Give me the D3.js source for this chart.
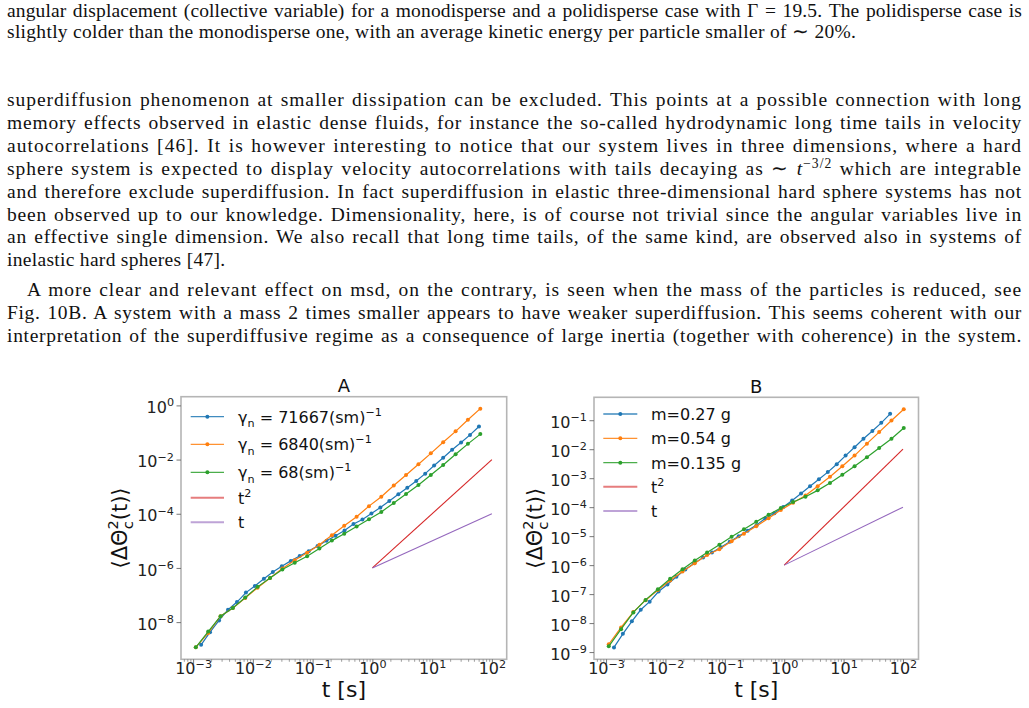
<!DOCTYPE html>
<html>
<head>
<meta charset="utf-8">
<script src="https://cdn.jsdelivr.net/npm/d3@7"></script>
<style>
  body { margin: 0; background: #fff; width: 1029px; height: 708px; overflow: hidden; position: relative; }
  .ln { position: absolute; left: 7px; width: 1015px; font-family: "Liberation Serif", serif; font-size: 19.5px;
        letter-spacing: 0px; line-height: 19.5px; white-space: nowrap; color: #111; }
  .ln sup { font-size: 70%; line-height: 0; }
  svg { position: absolute; left: 0; top: 0; }
</style>
</head>
<body>
<div id="text"></div>
<svg id="chart" width="1029" height="708"></svg>
<script>
// temps (s) : grille fine (série bleue) et grille grossière (orange / verte)
const tFine = [1.36e-3, 1.92e-3, 2.72e-3, 3.84e-3, 5.42e-3, 7.66e-3, 1.08e-2, 1.53e-2, 2.16e-2, 3.05e-2,
  4.31e-2, 6.08e-2, 8.59e-2, 0.121, 0.171, 0.242, 0.342, 0.483, 0.682, 0.964,
  1.36, 1.92, 2.72, 3.84, 5.42, 7.66, 10.8, 15.3, 21.6, 30.5, 43.1, 60.8];
const tCoarse = [1.11e-3, 1.79e-3, 2.88e-3, 4.63e-3, 7.46e-3, 1.20e-2, 1.94e-2, 3.12e-2, 5.02e-2, 8.09e-2,
  0.130, 0.210, 0.338, 0.545, 0.877, 1.41, 2.28, 3.66, 5.90, 9.51, 15.3, 24.7, 39.7, 64.0, 103];

// msd : gamma_n = 71667 (sm)^-1, m = 0.27 g (même série en A et B)
const msdBlue = [1.45e-9, 4.27e-9, 1.15e-8, 2.88e-8, 5.50e-8, 1.23e-7, 2.14e-7, 3.98e-7, 7.08e-7, 1.15e-6,
  1.82e-6, 2.75e-6, 4.17e-6, 6.46e-6, 1.00e-5, 1.55e-5, 2.40e-5, 4.17e-5, 6.17e-5, 1.02e-4,
  1.70e-4, 2.95e-4, 5.25e-4, 9.12e-4, 1.62e-3, 3.02e-3, 6.03e-3, 1.17e-2, 2.29e-2, 4.27e-2, 8.13e-2, 0.166];
// A : gamma_n = 6840 et 68 (sm)^-1
const msdOrangeA = [1.17e-9, 3.98e-9, 1.66e-8, 3.31e-8, 7.76e-8, 1.86e-7, 4.27e-7, 9.55e-7, 1.91e-6, 3.63e-6,
  7.24e-6, 1.62e-5, 3.63e-5, 7.76e-5, 1.91e-4, 4.27e-4, 1.10e-3, 2.69e-3, 6.76e-3, 1.70e-2, 4.37e-2, 0.110, 0.295, 0.759];
const msdGreenA = [1.17e-9, 4.47e-9, 1.66e-8, 3.31e-8, 8.13e-8, 2.00e-7, 4.27e-7, 8.71e-7, 1.55e-6, 2.69e-6,
  5.25e-6, 1.02e-5, 1.82e-5, 3.39e-5, 6.31e-5, 1.17e-4, 2.51e-4, 5.37e-4, 1.15e-3, 2.69e-3, 6.31e-3, 1.58e-2, 3.80e-2, 8.71e-2];
// B : m = 0.54 g et m = 0.135 g
const msdOrangeB = [1.86e-9, 7.08e-9, 2.40e-8, 6.17e-8, 1.38e-7, 2.95e-7, 6.03e-7, 1.17e-6, 2.24e-6, 3.55e-6,
  6.61e-6, 1.20e-5, 2.19e-5, 4.17e-5, 7.94e-5, 1.41e-4, 2.51e-4, 5.25e-4, 1.12e-3, 2.57e-3, 6.03e-3, 1.55e-2, 3.89e-2, 9.77e-2, 0.240];
const msdGreenB = [1.58e-9, 6.17e-9, 2.34e-8, 6.31e-8, 1.48e-7, 3.39e-7, 7.24e-7, 1.45e-6, 2.75e-6, 5.01e-6,
  9.55e-6, 1.74e-5, 3.16e-5, 5.50e-5, 9.33e-5, 1.51e-4, 2.29e-4, 3.80e-4, 6.76e-4, 1.32e-3, 2.57e-3, 5.25e-3, 1.10e-2, 2.29e-2, 5.37e-2];

// droites de référence
const refT = [1, 100];
const refT2 = [1e-6, 1e-2];
const refT1 = [1e-6, 1e-4];

// ticks (exposants)
const xTickExp = [-3, -2, -1, 0, 1, 2];
const yTickExpA = [0, -2, -4, -6, -8];
const yTickExpB = [-1, -2, -3, -4, -5, -6, -7, -8, -9];

// légendes
const legendA = [
  [["γ"], ["n", "sub"], [" = 71667(sm)"], ["−1", "sup"]],
  [["γ"], ["n", "sub"], [" = 6840(sm)"], ["−1", "sup"]],
  [["γ"], ["n", "sub"], [" = 68(sm)"], ["−1", "sup"]],
  [["t"], ["2", "sup"]],
  [["t"]]
];
const legendB = [[["m=0.27 g"]], [["m=0.54 g"]], [["m=0.135 g"]], [["t"], ["2", "sup"]], [["t"]]];
const yLabel = [["⟨ΔΘ"], ["2", "sup"], ["c", "sub", -9.3], ["(t)⟩", null, 1]];

const colors = { blue: "#1f77b4", orange: "#ff7f0e", green: "#2ca02c", red: "#d62728", purple: "#9467bd" };

// texte de la page
const textLines = [
  { b: 17, h: "angular displacement (collective variable) for a monodisperse and a polidisperse case with Γ = 19.5. The polidisperse case is" },
  { b: 38.5, h: "slightly colder than the monodisperse one, with an average kinetic energy per particle smaller of ∼ 20%.", last: true },
  { b: 106.5, h: "superdiffusion phenomenon at smaller dissipation can be excluded. This points at a possible connection with long" },
  { b: 129.5, h: "memory effects observed in elastic dense fluids, for instance the so-called hydrodynamic long time tails in velocity" },
  { b: 152.5, h: "autocorrelations [46]. It is however interesting to notice that our system lives in three dimensions, where a hard" },
  { b: 175.5, h: "sphere system is expected to display velocity autocorrelations with tails decaying as ∼ <i>t</i><sup>−3/2</sup> which are integrable" },
  { b: 198, h: "and therefore exclude superdiffusion. In fact superdiffusion in elastic three-dimensional hard sphere systems has not" },
  { b: 221, h: "been observed up to our knowledge. Dimensionality, here, is of course not trivial since the angular variables live in" },
  { b: 243.5, h: "an effective single dimension. We also recall that long time tails, of the same kind, are observed also in systems of" },
  { b: 266.5, h: "inelastic hard spheres [47].", last: true },
  { b: 296, h: "A more clear and relevant effect on msd, on the contrary, is seen when the mass of the particles is reduced, see", indent: 20 },
  { b: 319, h: "Fig. 10B. A system with a mass 2 times smaller appears to have weaker superdiffusion. This seems coherent with our" },
  { b: 342, h: "interpretation of the superdiffusive regime as a consequence of large inertia (together with coherence) in the system." }
];

// justification ligne par ligne : un peu d'approche, le reste en espaces
d3.select("#text").selectAll("div").data(textLines).join("div")
  .attr("class", "ln")
  .style("top", d => (d.b - 16.3) + "px")
  .style("left", d => (7 + (d.indent || 0)) + "px")
  .html(d => `<span>${d.h}</span>`)
  .each(function (d) {
    const plain = d.h.replace(/<[^>]+>/g, "");
    const n = (plain.match(/ /g) || []).length;
    const target = 1015 - (d.indent || 0);
    let w = this.firstChild.getBoundingClientRect().width;
    const extra = target - w;
    const ws = Math.min(extra / n, 1.5);
    const ls = d.last ? 0.3 : Math.max(0, (extra - ws * n) / plain.length);
    this.style.letterSpacing = ls + "px";
    if (d.last) return;
    w = this.firstChild.getBoundingClientRect().width;
    this.style.wordSpacing = ((target - w) / n) + "px";
  });

const svg = d3.select("#chart");
const FONT = "DejaVu Sans, sans-serif";

function logPad(ext) {
  const a = Math.log10(ext[0]), b = Math.log10(ext[1]), m = (b - a) * 0.05;
  return [10 ** (a - m), 10 ** (b + m)];
}

function richText(sel, parts, size) {
  let off = 0;
  parts.forEach(([txt, kind, dx]) => {
    const target = kind === "sup" ? -0.42 * size : kind === "sub" ? 0.3 * size : 0;
    const ts = sel.append("tspan").attr("dy", target - off)
      .attr("font-size", kind ? size * 0.7 : size).text(txt);
    if (dx) ts.attr("dx", dx);
    off = target;
  });
}

function drawPanel(p) {
  const g = svg.append("g");
  const ts = p.series.flatMap(s => s.y.map((v, i) => s.t[i])).concat(refT);
  const vs = p.series.flatMap(s => s.y).concat(refT2, refT1);
  const x = d3.scaleLog().domain(logPad(d3.extent(ts))).range([p.left, p.right]);
  const y = d3.scaleLog().domain(logPad(d3.extent(vs))).range([p.bottom, p.top]);

  // cadre
  g.append("rect").attr("x", p.left).attr("y", p.top)
    .attr("width", p.right - p.left).attr("height", p.bottom - p.top)
    .attr("fill", "none").attr("stroke", "#b5b5b5").attr("stroke-width", 1.6);

  // ticks mineurs en x
  const minors = [];
  for (let e = -4; e <= 2; e++) for (let m = 2; m <= 9; m++) {
    const v = m * 10 ** e;
    if (v > x.domain()[0] && v < x.domain()[1]) minors.push(v);
  }
  g.append("g").attr("transform", `translate(0,${p.bottom})`)
    .call(d3.axisBottom(x).tickValues(minors).tickFormat("").tickSize(2.5))
    .call(a => a.select(".domain").remove())
    .selectAll("line").attr("stroke", "#777").attr("stroke-width", 0.7);

  const xa = g.append("g").attr("transform", `translate(0,${p.bottom})`)
    .call(d3.axisBottom(x).tickValues(xTickExp.map(e => 10 ** e)).tickFormat("").tickSize(4.5));
  xa.select(".domain").remove();
  xa.selectAll("line").attr("stroke", "#666").attr("stroke-width", 0.9);
  xa.selectAll(".tick text").remove();
  xa.selectAll(".tick").each(function (v) {
    const t = d3.select(this).append("text").attr("y", 15).attr("fill", "#222")
      .attr("font-family", FONT).attr("font-size", 16).attr("text-anchor", "middle");
    richText(t, [["10"], [String(Math.round(Math.log10(v))).replace("-", "−"), "sup"]], 16);
  });

  const ya = g.append("g").attr("transform", `translate(${p.left},0)`)
    .call(d3.axisLeft(y).tickValues(p.yTicks.map(e => 10 ** e)).tickFormat("").tickSize(4.5));
  ya.select(".domain").remove();
  ya.selectAll("line").attr("stroke", "#666").attr("stroke-width", 0.9);
  ya.selectAll(".tick text").remove();
  ya.selectAll(".tick").each(function (v) {
    const t = d3.select(this).append("text").attr("x", -7).attr("y", 7.2).attr("fill", "#222")
      .attr("font-family", FONT).attr("font-size", 16).attr("text-anchor", "end");
    richText(t, [["10"], [String(Math.round(Math.log10(v))).replace("-", "−"), "sup"]], 16);
  });

  // courbes
  const line = d3.line().x(d => x(d[0])).y(d => y(d[1]));
  p.series.forEach(s => {
    const pts = s.y.map((v, i) => [s.t[i], v]);
    g.append("path").attr("d", line(pts)).attr("fill", "none")
      .attr("stroke", s.color).attr("stroke-width", 1.2);
    g.append("g").selectAll("circle").data(pts).join("circle")
      .attr("cx", d => x(d[0])).attr("cy", d => y(d[1])).attr("r", 2).attr("fill", s.color);
  });
  [[refT2, colors.red], [refT1, colors.purple]].forEach(([v, c]) => {
    g.append("path").attr("d", line(refT.map((t, i) => [t, v[i]]))).attr("fill", "none")
      .attr("stroke", c).attr("stroke-width", 1.1);
  });

  // titres
  const cx = (p.left + p.right) / 2;
  g.append("text").attr("x", cx).attr("y", p.top - 4.5).attr("text-anchor", "middle")
    .attr("font-family", FONT).attr("font-size", 18).attr("fill", "#111").text(p.title);
  g.append("text").attr("x", cx).attr("y", 697).attr("text-anchor", "middle")
    .attr("font-family", FONT).attr("font-size", 22).attr("fill", "#111").text("t [s]");
  const yl = g.append("text").attr("transform", `translate(${p.ylabelX},${(p.top + p.bottom) / 2}) rotate(-90)`)
    .attr("text-anchor", "middle").attr("font-family", FONT).attr("font-size", 21).attr("fill", "#111");
  richText(yl, yLabel, 21);

  // légende
  const leg = p.legend;
  const entries = p.series.map(s => ({ c: s.color, mark: true }))
    .concat([{ c: colors.red, ref: true }, { c: colors.purple, ref: true }]);
  entries.forEach((e, i) => {
    const yy = leg.rows[i];
    g.append("line").attr("x1", leg.x0).attr("x2", leg.x1).attr("y1", yy).attr("y2", yy)
      .attr("stroke", e.c).attr("stroke-width", e.ref ? 2 : 1.3).attr("opacity", e.ref ? 0.6 : 0.85);
    if (e.mark) g.append("circle").attr("cx", (leg.x0 + leg.x1) / 2).attr("cy", yy).attr("r", 2).attr("fill", e.c);
    const t = g.append("text").attr("x", leg.tx).attr("y", yy + 5.8)
      .attr("font-family", FONT).attr("font-size", 16).attr("fill", "#111");
    richText(t, leg.labels[i], 16);
    // largeur du rendu mathtext d'origine (étirement horizontal si besoin)
    if (leg.widths && leg.widths[i]) {
      const w = t.node().getBBox().width;
      const k = leg.widths[i] / w;
      if (w > 0 && Math.abs(k - 1) > 0.02) {
        t.attr("transform", `translate(${leg.tx},0) scale(${k},1) translate(${-leg.tx},0)`);
      }
    }
  });
}

drawPanel({
  title: "A", left: 181, right: 506.7, top: 396.7, bottom: 659.3, ylabelX: 127,
  yTicks: yTickExpA,
  series: [
    { t: tFine, y: msdBlue, color: colors.blue },
    { t: tCoarse, y: msdOrangeA, color: colors.orange },
    { t: tCoarse, y: msdGreenA, color: colors.green }
  ],
  legend: { x0: 190.7, x1: 224, tx: 238, rows: [416.7, 444.3, 472.3, 497.7, 522.3], labels: legendA,
            widths: [145, 136, 115] }
});

drawPanel({
  title: "B", left: 594, right: 918.5, top: 397.3, bottom: 659.3, ylabelX: 542,
  yTicks: yTickExpB,
  series: [
    { t: tFine, y: msdBlue, color: colors.blue },
    { t: tCoarse, y: msdOrangeB, color: colors.orange },
    { t: tCoarse, y: msdGreenB, color: colors.green }
  ],
  legend: { x0: 603.3, x1: 637.3, tx: 651, rows: [414, 438.3, 462.7, 486.7, 511], labels: legendB }
});
</script>
</body>
</html>
